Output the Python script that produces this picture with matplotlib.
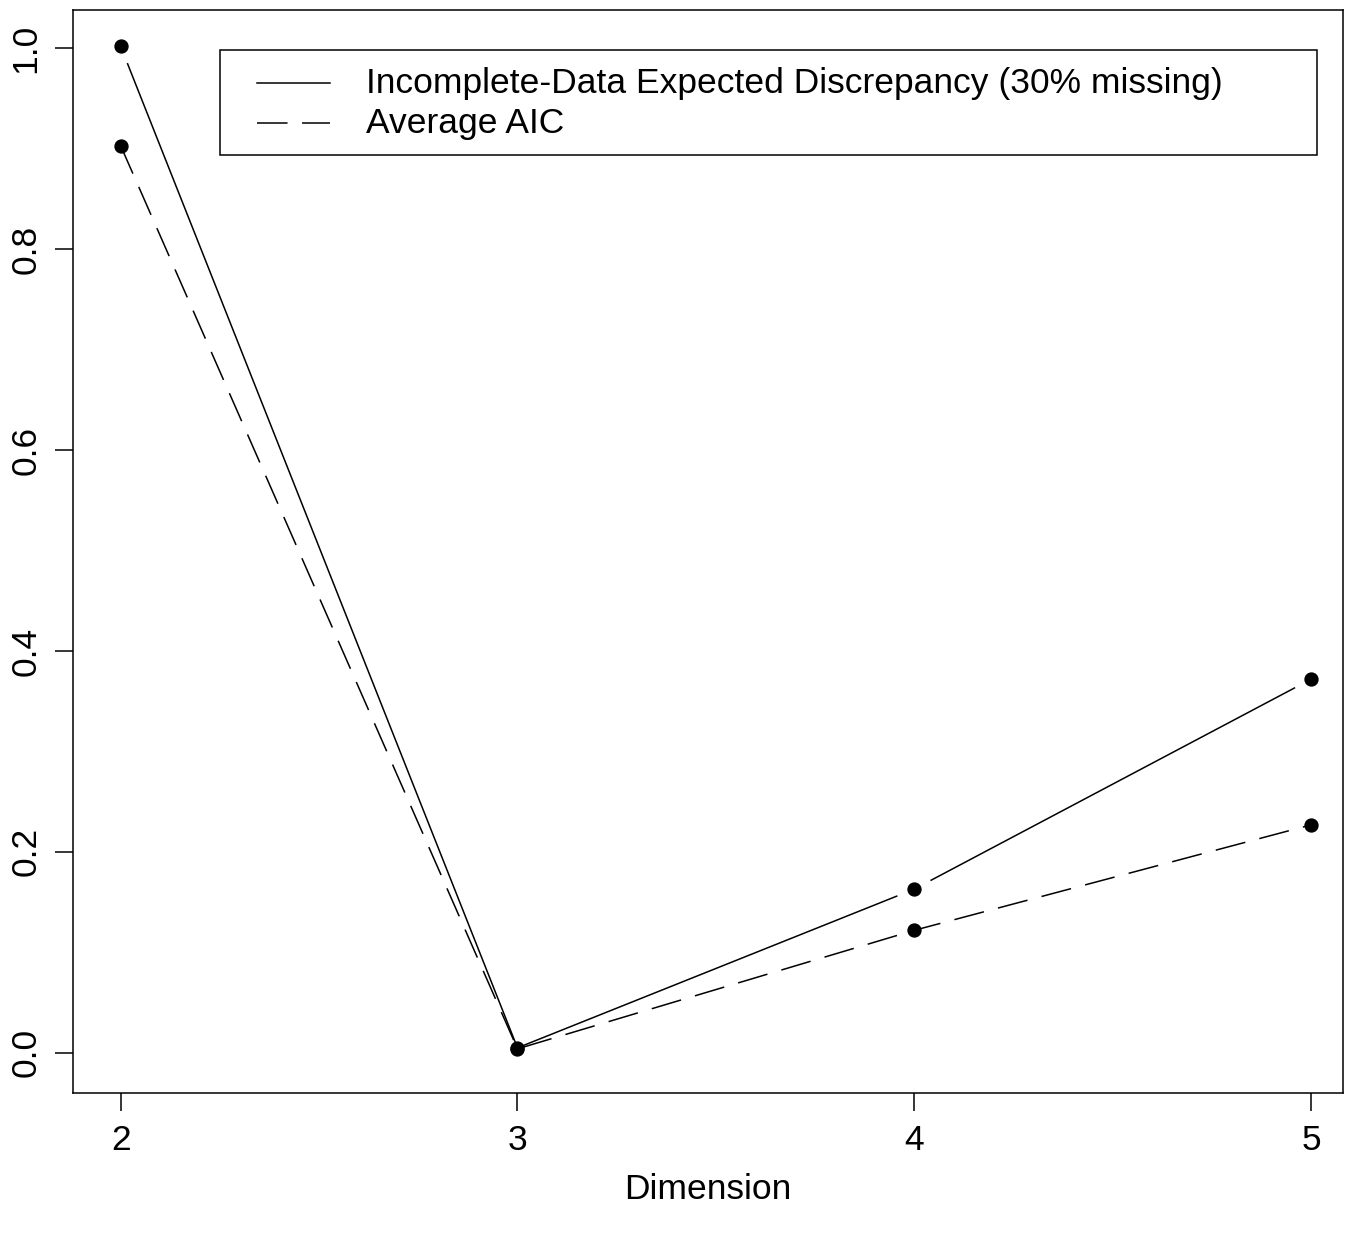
import numpy as np
import matplotlib
matplotlib.use("Agg")
from matplotlib import pyplot as plt
from matplotlib.patches import Rectangle

plt.rcParams['font.family'] = ['Liberation Sans', 'DejaVu Sans']

dims = [2, 3, 4, 5]
discrepancy = [1.002, 0.005, 0.163, 0.372]
avg_aic = [0.903, 0.004, 0.122, 0.227]
legend_labels = ["Incomplete-Data Expected Discrepancy (30% missing)", "Average AIC"]

fig = plt.figure(figsize=(13.59, 12.33), dpi=100)
ax = fig.add_axes([0.0537, 0.1135, 0.9345, 0.8784])
ax.set_xlim(1.88, 5.08)
ax.set_ylim(-0.04, 1.038)

GAP = 19  # pixels left open round each point, like R type="b"


def gapped(xs, ys, skip, **kw):
    pts = ax.transData.transform(np.column_stack([xs, ys]))
    inv = ax.transData.inverted()
    for i in range(len(pts) - 1):
        a, b = pts[i], pts[i + 1]
        d = (b - a) / np.hypot(*(b - a))
        a2 = a + d * (0 if i in skip else GAP)
        b2 = b - d * (0 if i + 1 in skip else GAP)
        seg = inv.transform(np.array([a2, b2]))
        ax.plot(seg[:, 0], seg[:, 1], **kw)


gapped(dims, discrepancy, skip={1}, color="black", lw=1.1)
line, = ax.plot(dims, avg_aic, color="black", lw=1.1)
line.set_dashes([20, 9.5])
ax.plot(dims, discrepancy, "o", color="black", ms=9.3)
ax.plot(dims, avg_aic, "o", color="black", ms=9.3)

ax.set_xticks(dims)
ax.set_yticks([0.0, 0.2, 0.4, 0.6, 0.8, 1.0])
ax.set_yticklabels(["0.0", "0.2", "0.4", "0.6", "0.8", "1.0"], rotation=90, va="center")
ax.tick_params(axis="both", labelsize=25.5, length=13, width=1.1, pad=9)
for s in ax.spines.values():
    s.set_linewidth(1.1)
ax.set_xlabel("Dimension", fontsize=25.5, labelpad=12)

# legend drawn by hand in axes pixel space
tr = ax.transAxes
def ax_xy(px, py):
    return ax.transAxes.inverted().transform(fig.transFigure.transform((px / 1359, 1 - py / 1233)))

x0, y0 = ax_xy(220, 155)
x1, y1 = ax_xy(1317, 50)
ax.add_patch(Rectangle((x0, y0), x1 - x0, y1 - y0, transform=tr, fill=False, lw=1.1, color="black"))
for k, (lab, py) in enumerate(zip(legend_labels, [83, 123])):
    la, lb = ax_xy(257, py), ax_xy(330, py)
    l, = ax.plot([la[0], lb[0]], [la[1], lb[1]], color="black", lw=1.1, transform=tr)
    if k == 1:
        l.set_dashes([20, 9.5])
    tx = ax_xy(366, py)
    ax.text(tx[0], tx[1], lab, transform=tr, fontsize=25.5, va="center", ha="left")

fig.savefig("out.png", dpi=100)
